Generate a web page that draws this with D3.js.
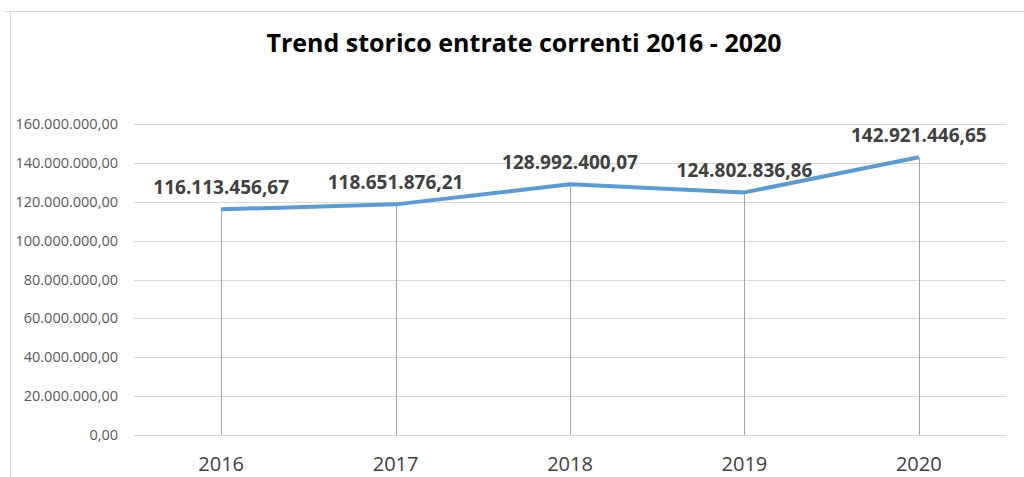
<!DOCTYPE html>
<meta charset="utf-8">
<head>
	<title>Trend storico entrate correnti</title>
	<script src="https://cdn.jsdelivr.net/npm/d3@7"></script>
	<style>
		body { margin: 0; background: #fff; overflow: hidden; }
		.grid line { stroke: #d9d9d9; stroke-width: 1; }
		.ylab { font-family: "Open Sans", sans-serif; font-size: 14.5px; fill: #595959; }
		.xlab { font-family: "Open Sans", sans-serif; font-size: 20px; fill: #404040; }
		.vlab { font-family: "Open Sans", sans-serif; font-size: 19px; font-weight: bold; fill: #404040; }
		.title { font-family: "Open Sans", sans-serif; font-size: 25px; font-weight: bold; fill: #000; }
	</style>
</head>
<body>
	<div id="chart"></div>
	<script>
		// data
		var years = ["2016", "2017", "2018", "2019", "2020"];
		var entrate = [116113456.67, 118651876.21, 128992400.07, 124802836.86, 142921446.65];
		var yTicks = [0, 20000000, 40000000, 60000000, 80000000, 100000000, 120000000, 140000000, 160000000];

		var width = 1024, height = 477;
		var svg = d3.select("#chart").append("svg")
			.attr("width", width).attr("height", height);

		// chart frame
		svg.append("line").attr("x1", 5).attr("x2", width).attr("y1", 11.5).attr("y2", 11.5)
			.style("stroke", "#d9d9d9");
		svg.append("line").attr("x1", 10.5).attr("x2", 10.5).attr("y1", 11).attr("y2", height)
			.style("stroke", "#d9d9d9");

		var x = d3.scaleBand().domain(years).range([134, 1006]);
		var y = d3.scaleLinear().domain([0, 160000000]).range([435, 124]);

		// number format it-IT
		var fmt = function (v) {
			var parts = v.toFixed(2).split(".");
			return parts[0].replace(/\B(?=(\d{3})+(?!\d))/g, ".") + "," + parts[1];
		};

		svg.append("g").attr("class", "grid")
			.selectAll("line").data(yTicks).enter().append("line")
			.attr("x1", 134).attr("x2", 1006)
			.attr("y1", function (d) { return Math.round(y(d)) + 0.5; })
			.attr("y2", function (d) { return Math.round(y(d)) + 0.5; });

		svg.selectAll(".ylab").data(yTicks).enter().append("text")
			.attr("class", "ylab")
			.attr("x", 118).attr("y", function (d) { return y(d); })
			.attr("dy", "0.35em").attr("text-anchor", "end")
			.text(fmt);

		var cx = function (d, i) { return x(years[i]) + x.bandwidth() / 2; };

		// drop lines
		svg.selectAll(".drop").data(entrate).enter().append("line")
			.attr("x1", function (d, i) { return Math.round(cx(d, i)) + 0.5; })
			.attr("x2", function (d, i) { return Math.round(cx(d, i)) + 0.5; })
			.attr("y1", function (d) { return y(d); })
			.attr("y2", y(0))
			.style("stroke", "#a6a6a6").style("stroke-width", 1);

		var line = d3.line().x(cx).y(function (d) { return y(d); });
		svg.append("path").datum(entrate)
			.attr("d", line)
			.style("fill", "none").style("stroke", "#5b9bd5")
			.style("stroke-width", 4).style("stroke-linejoin", "round");

		svg.selectAll(".vlab").data(entrate).enter().append("text")
			.attr("class", "vlab")
			.attr("x", cx).attr("y", function (d) { return y(d) - 15; })
			.attr("text-anchor", "middle")
			.text(fmt);

		svg.selectAll(".xlab").data(years).enter().append("text")
			.attr("class", "xlab")
			.attr("x", function (d) { return x(d) + x.bandwidth() / 2; })
			.attr("y", 471).attr("text-anchor", "middle")
			.text(function (d) { return d; });

		svg.append("text").attr("class", "title")
			.attr("x", 524).attr("y", 52).attr("text-anchor", "middle")
			.text("Trend storico entrate correnti 2016 - 2020");
	</script>
</body>
</html>
